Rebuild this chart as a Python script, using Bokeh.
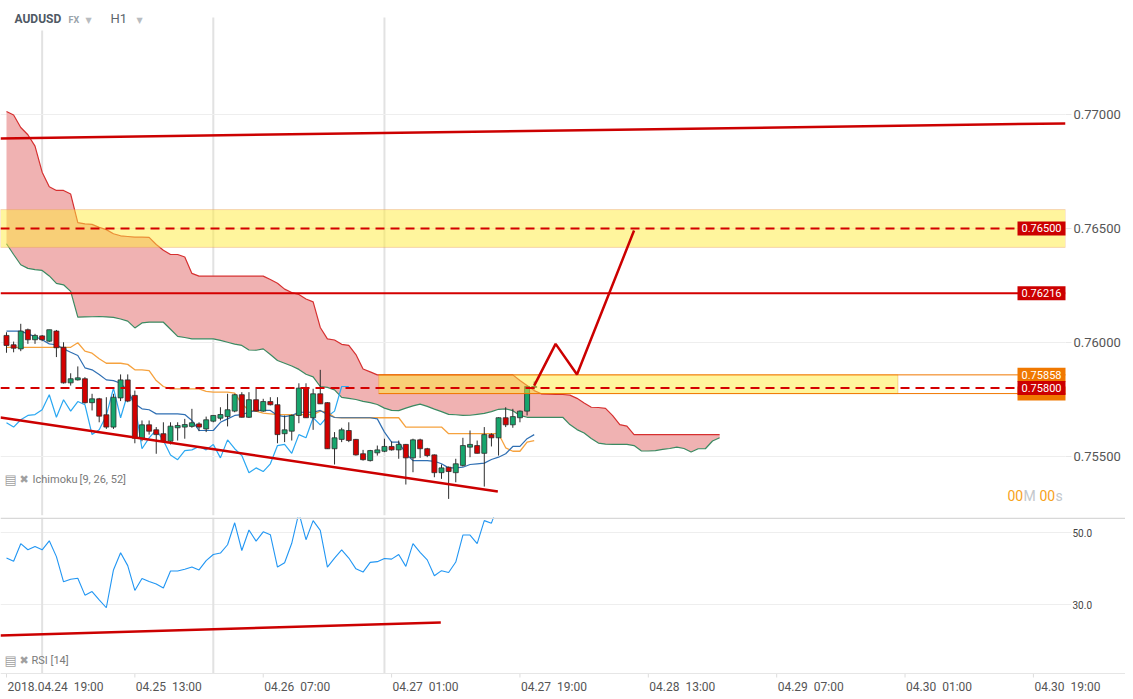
import numpy as np
from bokeh.plotting import figure
from bokeh.models import (Range1d, FixedTicker, Span, BoxAnnotation, ColumnDataSource,
                          PrintfTickFormatter, Label)
from bokeh.layouts import column
from bokeh.embed import file_html
from bokeh.resources import INLINE
from bokeh.core.properties import value

# ---------------- data (hours from 2018.04.24 19:00) ----------------
hours = list(range(75))
opens = [0.76031, 0.75990, 0.75972, 0.76056, 0.76012, 0.76029, 0.76006, 0.76050, 0.75979, 0.75823,
         0.75836, 0.75841, 0.75736, 0.75753, 0.75683, 0.75629, 0.75757, 0.75836, 0.75768, 0.75580,
         0.75639, 0.75617, 0.75600, 0.75567, 0.75626, 0.75629, 0.75632, 0.75643, 0.75621, 0.75655,
         0.75668, 0.75675, 0.75699, 0.75771, 0.75672, 0.75749, 0.75699, 0.75741, 0.75727, 0.75600,
         0.75611, 0.75680, 0.75800, 0.75670, 0.75775, 0.75736, 0.75534, 0.75575, 0.75614, 0.75575,
         0.75512, 0.75482, 0.75516, 0.75523, 0.75544, 0.75529, 0.75553, 0.75494, 0.75573, 0.75534,
         0.75507, 0.75429, 0.75453, 0.75429, 0.75461, 0.75541, 0.75548, 0.75514, 0.75596, 0.75582,
         0.75670, 0.75639, 0.75670, 0.75699, 0.75803]
highs = [0.76045, 0.76004, 0.76082, 0.76061, 0.76038, 0.76033, 0.76056, 0.76055, 0.76001, 0.75865,
         0.75895, 0.75848, 0.75775, 0.75757, 0.75760, 0.75775, 0.75860, 0.75860, 0.75789, 0.75658,
         0.75658, 0.75629, 0.75650, 0.75650, 0.75650, 0.75665, 0.75709, 0.75650, 0.75675, 0.75680,
         0.75716, 0.75775, 0.75775, 0.75782, 0.75782, 0.75797, 0.75753, 0.75760, 0.75760, 0.75680,
         0.75684, 0.75821, 0.75821, 0.75797, 0.75880, 0.75738, 0.75607, 0.75626, 0.75650, 0.75577,
         0.75529, 0.75529, 0.75548, 0.75578, 0.75566, 0.75570, 0.75555, 0.75578, 0.75578, 0.75538,
         0.75509, 0.75465, 0.75456, 0.75490, 0.75582, 0.75614, 0.75570, 0.75629, 0.75602, 0.75672,
         0.75716, 0.75709, 0.75702, 0.75807, 0.75829]
lows = [0.75955, 0.75957, 0.75962, 0.75994, 0.75994, 0.76006, 0.76002, 0.75936, 0.75820, 0.75811,
        0.75833, 0.75732, 0.75702, 0.75650, 0.75621, 0.75621, 0.75743, 0.75738, 0.75558, 0.75567,
        0.75596, 0.75512, 0.75563, 0.75553, 0.75570, 0.75578, 0.75626, 0.75611, 0.75607, 0.75650,
        0.75658, 0.75632, 0.75694, 0.75671, 0.75669, 0.75697, 0.75696, 0.75724, 0.75558, 0.75563,
        0.75570, 0.75646, 0.75669, 0.75617, 0.75730, 0.75533, 0.75465, 0.75563, 0.75563, 0.75504,
        0.75482, 0.75478, 0.75504, 0.75519, 0.75526, 0.75490, 0.75377, 0.75431, 0.75494, 0.75497,
        0.75409, 0.75402, 0.75314, 0.75387, 0.75456, 0.75497, 0.75513, 0.75368, 0.75544, 0.75504,
        0.75629, 0.75626, 0.75650, 0.75680, 0.75794]
closes = [0.75987, 0.75975, 0.76050, 0.76012, 0.76031, 0.76012, 0.76056, 0.75977, 0.75823, 0.75841,
          0.75845, 0.75736, 0.75753, 0.75677, 0.75629, 0.75760, 0.75836, 0.75743, 0.75580, 0.75639,
          0.75611, 0.75596, 0.75567, 0.75633, 0.75636, 0.75640, 0.75648, 0.75629, 0.75661, 0.75680,
          0.75684, 0.75705, 0.75771, 0.75672, 0.75749, 0.75699, 0.75741, 0.75727, 0.75596, 0.75617,
          0.75680, 0.75800, 0.75670, 0.75775, 0.75731, 0.75534, 0.75582, 0.75617, 0.75570, 0.75507,
          0.75486, 0.75526, 0.75529, 0.75544, 0.75529, 0.75553, 0.75494, 0.75573, 0.75534, 0.75504,
          0.75429, 0.75450, 0.75434, 0.75468, 0.75548, 0.75553, 0.75514, 0.75596, 0.75582, 0.75670,
          0.75639, 0.75675, 0.75699, 0.75807, 0.75807]

tenkan = [0.76050, 0.76050, 0.76050, 0.76038, 0.76026, 0.76012, 0.75994, 0.75990, 0.75972, 0.75957,
          0.75943, 0.75889, 0.75880, 0.75860, 0.75836, 0.75833, 0.75821, 0.75789, 0.75731, 0.75709,
          0.75705, 0.75687, 0.75687, 0.75687, 0.75687, 0.75684, 0.75658, 0.75614, 0.75614, 0.75614,
          0.75650, 0.75665, 0.75680, 0.75684, 0.75694, 0.75702, 0.75702, 0.75702, 0.75680, 0.75675,
          0.75680, 0.75694, 0.75694, 0.75694, 0.75702, 0.75684, 0.75671, 0.75670, 0.75670, 0.75670,
          0.75670, 0.75670, 0.75665, 0.75607, 0.75563, 0.75563, 0.75512, 0.75482, 0.75482, 0.75482,
          0.75479, 0.75468, 0.75450, 0.75450, 0.75453, 0.75465, 0.75468, 0.75471, 0.75487, 0.75497,
          0.75512, 0.75544, 0.75544, 0.75578, 0.75596]
kijun = [0.75979, 0.75979, 0.75979, 0.75979, 0.75979, 0.75979, 0.75979, 0.75979, 0.75979, 0.75979,
         0.75999, 0.75962, 0.75953, 0.75929, 0.75909, 0.75909, 0.75909, 0.75904, 0.75880, 0.75880,
         0.75877, 0.75833, 0.75807, 0.75797, 0.75797, 0.75797, 0.75797, 0.75797, 0.75786, 0.75782,
         0.75782, 0.75782, 0.75778, 0.75731, 0.75702, 0.75699, 0.75690, 0.75687, 0.75684, 0.75684,
         0.75684, 0.75684, 0.75684, 0.75684, 0.75699, 0.75694, 0.75672, 0.75670, 0.75670, 0.75670,
         0.75670, 0.75670, 0.75670, 0.75670, 0.75670, 0.75670, 0.75629, 0.75629, 0.75629, 0.75629,
         0.75629, 0.75629, 0.75600, 0.75600, 0.75600, 0.75600, 0.75600, 0.75600, 0.75600, 0.75600,
         0.75538, 0.75523, 0.75523, 0.75563, 0.75570]

cloud_hours = list(range(101))
span_top = [0.77013, 0.76998, 0.76943, 0.76911, 0.76861, 0.76747, 0.76683, 0.76667, 0.76667, 0.76651,
            0.76526, 0.76520, 0.76518, 0.76505, 0.76495, 0.76477, 0.76468, 0.76465, 0.76462, 0.76462,
            0.76461, 0.76430, 0.76405, 0.76386, 0.76386, 0.76375, 0.76303, 0.76291, 0.76291, 0.76291,
            0.76291, 0.76291, 0.76291, 0.76291, 0.76291, 0.76291, 0.76291, 0.76276, 0.76260, 0.76234,
            0.76219, 0.76211, 0.76191, 0.76178, 0.76066, 0.76016, 0.76011, 0.75992, 0.75987, 0.75947,
            0.75884, 0.75871, 0.75858, 0.75858, 0.75858, 0.75858, 0.75858, 0.75858, 0.75858, 0.75858,
            0.75858, 0.75858, 0.75858, 0.75858, 0.75858, 0.75858, 0.75858, 0.75858, 0.75858, 0.75858,
            0.75858, 0.75858, 0.75833, 0.75811, 0.75789, 0.75775, 0.75773, 0.75772, 0.75772, 0.75769,
            0.75755, 0.75735, 0.75716, 0.75715, 0.75711, 0.75679, 0.75640, 0.75633, 0.75596, 0.75596,
            0.75596, 0.75596, 0.75596, 0.75596, 0.75596, 0.75596, 0.75596, 0.75596, 0.75596, 0.75596,
            0.75596]
span_bottom = [0.76433, 0.76386, 0.76341, 0.76325, 0.76320, 0.76316, 0.76292, 0.76259, 0.76253, 0.76224,
               0.76111, 0.76112, 0.76113, 0.76114, 0.76112, 0.76110, 0.76103, 0.76094, 0.76064, 0.76086,
               0.76089, 0.76089, 0.76089, 0.76058, 0.76027, 0.76022, 0.76016, 0.76016, 0.76016, 0.76016,
               0.76009, 0.76001, 0.75993, 0.75987, 0.75967, 0.75966, 0.75972, 0.75947, 0.75921, 0.75909,
               0.75897, 0.75882, 0.75861, 0.75849, 0.75807, 0.75803, 0.75792, 0.75759, 0.75755, 0.75750,
               0.75742, 0.75736, 0.75728, 0.75712, 0.75702, 0.75701, 0.75712, 0.75722, 0.75730, 0.75720,
               0.75708, 0.75697, 0.75685, 0.75683, 0.75680, 0.75681, 0.75685, 0.75689, 0.75697, 0.75707,
               0.75709, 0.75701, 0.75680, 0.75672, 0.75672, 0.75672, 0.75672, 0.75672, 0.75672, 0.75640,
               0.75618, 0.75603, 0.75579, 0.75559, 0.75554, 0.75553, 0.75553, 0.75553, 0.75548, 0.75525,
               0.75524, 0.75526, 0.75531, 0.75535, 0.75541, 0.75535, 0.75520, 0.75534, 0.75534, 0.75568,
               0.75582]

rsi = [42.9, 42.0, 46.9, 45.2, 46.1, 45.2, 47.7, 43.3, 36.3, 37.0,
       37.3, 32.6, 33.6, 31.3, 29.1, 39.6, 44.4, 40.8, 33.9, 37.2,
       36.4, 35.7, 34.6, 39.3, 39.3, 39.8, 40.4, 39.6, 42.2, 43.9,
       44.3, 46.6, 52.7, 45.0, 50.7, 47.6, 50.2, 49.4, 40.4, 41.6,
       47.0, 55.5, 48.0, 53.3, 50.6, 40.4, 42.9, 45.2, 42.9, 39.9,
       39.0, 41.7, 41.9, 42.8, 42.6, 43.9, 40.6, 46.9, 44.5, 42.4,
       38.0, 39.4, 38.9, 41.8, 49.3, 49.3, 46.9, 53.3, 52.6, 58.0,
       57.0, 59.0, 60.5, 63.0, 63.5]

tick_hours = [0, 18, 36, 54, 72, 90, 108, 126, 144]
tick_labels = ["2018.04.24\u00a0\u00a019:00", "04.25\u00a0\u00a013:00", "04.26\u00a0\u00a007:00",
               "04.27\u00a0\u00a001:00", "04.27\u00a0\u00a019:00", "04.28\u00a0\u00a013:00",
               "04.29\u00a0\u00a007:00", "04.30\u00a0\u00a001:00", "04.30\u00a0\u00a019:00"]
day_breaks = [5, 29, 53]
price_ticks = [0.755, 0.760, 0.765, 0.770]
rsi_ticks = [30, 50]

level_dashed = [0.76500, 0.75800]
level_solid = [0.76216]
zone_upper = [0.76417, 0.76583]
zone_lower = [0.75776, 0.75858]
zone_lower_hours = [52.2, 125.0]
trend_top_hours = [-0.84, 148.5]
trend_top_prices = [0.76895, 0.76961]
trend_low_hours = [-0.84, 68.9]
trend_low_prices = [0.75671, 0.75346]
zig_hours = [74, 77, 80, 88]
zig_prices = [0.75811, 0.75994, 0.75860, 0.76491]
rsi_trend_hours = [-0.84, 60.9]
rsi_trend_vals = [21.4, 25.0]

# ---------------- layout constants ----------------
X_LO, X_HI = -0.84, 148.5
FW = 1065
P_LO, P_HI = 0.752412, 0.775
R_HI = 54.17
R_AXIS = 10.83          # RSI value at the time-axis line
R_LO = 5.28             # bottom of the RSI frame (room for the time labels)
R_PER_PX = 1 / 3.6      # RSI units per screen pixel
px_per_hour = FW / (X_HI - X_LO)
price_per_px = (P_HI - P_LO) / 515
RW = 1125               # RSI panel frame width (labels drawn inside)
R_X_HI = X_LO + RW / px_per_hour
FONT = "Roboto"

GREEN = "#17a56d"
RED = "#d40000"

p = figure(x_range=Range1d(X_LO, X_HI), y_range=Range1d(P_LO, P_HI), frame_width=FW, frame_height=515,
           y_axis_location="right", output_backend="svg", toolbar_location=None,
           min_border_left=0, min_border_top=0, min_border_bottom=2, min_border_right=0)
p.xaxis.visible = False
p.outline_line_color = None
p.xgrid.grid_line_color = None
p.ygrid.grid_line_color = "#eeeeee"
p.yaxis.ticker = FixedTicker(ticks=price_ticks)
p.yaxis.formatter = PrintfTickFormatter(format="%.5f")
p.yaxis.axis_line_color = None
p.yaxis.major_tick_line_color = "#e8e8e8"
p.yaxis.major_tick_out = 6
p.yaxis.major_tick_in = 0
p.yaxis.minor_tick_line_color = None
p.yaxis.major_label_text_font = FONT
p.yaxis.major_label_text_font_size = "13px"
p.yaxis.major_label_text_color = "#555555"
p.yaxis.major_label_standoff = 2

# day separators (the first one starts below the header text)
day_tops = [P_HI - 30 * price_per_px, P_HI - 17 * price_per_px, P_HI - 17 * price_per_px]
p.segment(x0=day_breaks, x1=day_breaks, y0=[P_LO] * len(day_breaks), y1=day_tops,
          line_color="#e2e2e2", line_width=2, level="underlay")

# Ichimoku cloud
p.varea(x=cloud_hours, y1=span_bottom, y2=span_top, fill_color="#f0b2b2")
p.line(cloud_hours, span_top, line_color="#d63030", line_width=1.2)
p.line(cloud_hours, span_bottom, line_color="#3b8a62", line_width=1.2)

# Ichimoku lines (chikou = close shifted back 26 bars)
p.line(hours[:-26], closes[26:], line_color="#2ba8f2", line_width=1.2)
p.line(hours, kijun, line_color="#f6a23e", line_width=1.3)
p.line(hours, tenkan, line_color="#2f6fb3", line_width=1.2)

# candles
o = np.array(opens); c = np.array(closes)
src = ColumnDataSource(dict(x=hours, h=highs, l=lows, top=np.maximum(o, c), bot=np.minimum(o, c),
                            col=[GREEN if cc >= oo else RED for oo, cc in zip(opens, closes)]))
p.segment(x0="x", y0="h", x1="x", y1="l", source=src, line_color="#2d2d2d", line_width=1)
p.vbar(x="x", width=0.7, top="top", bottom="bot", source=src, fill_color="col",
       line_color="#2d2d2d", line_width=0.8)

# zones
p.add_layout(BoxAnnotation(bottom=zone_upper[0], top=zone_upper[1], fill_color="#ffeb3b", fill_alpha=0.5,
                           line_color="#e5866a", line_width=1))
p.add_layout(BoxAnnotation(left=zone_lower_hours[0], right=zone_lower_hours[1], bottom=zone_lower[0],
                           top=zone_lower[1], fill_color="#ffeb3b", fill_alpha=0.5,
                           line_color="#f07800", line_width=1))
p.segment(x0=[zone_lower_hours[0]] * 2, x1=[X_HI] * 2, y0=zone_lower, y1=zone_lower,
          line_color="#f07800", line_width=1, level="overlay")

for lv in level_dashed:
    p.add_layout(Span(location=lv, dimension="width", line_color=RED, line_width=2, line_dash="9 6"))
for lv in level_solid:
    p.add_layout(Span(location=lv, dimension="width", line_color=RED, line_width=2))

# trend lines & projection
p.line(trend_top_hours, trend_top_prices, line_color="#cc0000", line_width=2.5)
p.line(trend_low_hours, trend_low_prices, line_color="#cc0000", line_width=2.5)
p.line(zig_hours, zig_prices, line_color="#cc0000", line_width=2.5, level="overlay")

# price tags on the right edge
lab_x = X_HI - 24 / px_per_hour
tag_vals = [zone_lower[0], zone_lower[1], level_dashed[1], level_dashed[0], level_solid[0]]
tag_cols = ["#f07800", "#f07800", "#cc0000", "#cc0000", "#cc0000"]
tag_txt = ["", f"{zone_lower[1]:.5f}", f"{level_dashed[1]:.5f}", f"{level_dashed[0]:.5f}", f"{level_solid[0]:.5f}"]
tsrc = ColumnDataSource(dict(x=[lab_x] * 5, y=tag_vals, col=tag_cols, t=tag_txt))
p.rect(x="x", y="y", width=48, height=14, width_units="screen", height_units="screen",
       fill_color="col", line_color=None, source=tsrc, level="overlay")
p.text(x="x", y="y", text="t", source=tsrc, text_align="center", text_baseline="middle",
       text_font=value(FONT), text_font_size="11px", text_color="white", level="overlay")


def lab(fig, x, y, xo, yo, txt, size, color, style="normal", font=FONT):
    fig.add_layout(Label(x=x, y=y, x_offset=xo, y_offset=yo, text=txt, text_font=font,
                         text_font_size=size, text_color=color, text_font_style=style,
                         text_baseline="middle", text_align="left"))


# header
lab(p, X_LO, P_HI, 14, -18, "AUDUSD", "12px", "#4f5964", "bold")
lab(p, X_LO, P_HI, 68, -19, "FX", "9px", "#9aa3ab", "bold")
lab(p, X_LO, P_HI, 85, -20, "\u25bc", "8px", "#b8bcc0", font="DejaVu Sans")
lab(p, X_LO, P_HI, 110, -18, "H1", "13px", "#5d656d")
lab(p, X_LO, P_HI, 136, -20, "\u25bc", "8px", "#b8bcc0", font="DejaVu Sans")

# indicator caption
lab(p, X_LO, P_LO, 4, 36, "\u25a4", "13px", "#a0a0a0", font="DejaVu Sans")
lab(p, X_LO, P_LO, 19, 36, "\u2716", "11px", "#a0a0a0", font="DejaVu Sans")
lab(p, X_LO, P_LO, 32, 36, "Ichimoku", "11px", "#7a7a7a")
lab(p, X_LO, P_LO, 79, 36, "[9, 26, 52]", "11px", "#7a7a7a")

# countdown
lab(p, X_LO, P_LO, 1007, 20, "00", "14px", "#f7a21b")
lab(p, X_LO, P_LO, 1023, 20, "M", "14px", "#c3c7cb")
lab(p, X_LO, P_LO, 1039, 20, "00", "14px", "#f7a21b")
lab(p, X_LO, P_LO, 1055, 20, "s", "14px", "#c3c7cb")

# ---------------- RSI panel (axis texts drawn inside a wider frame) ----------------
r = figure(x_range=Range1d(X_LO, R_X_HI), y_range=Range1d(R_LO, R_HI), frame_width=RW, frame_height=176,
           output_backend="svg", toolbar_location=None,
           min_border_left=0, min_border_top=0, min_border_bottom=0, min_border_right=0)
r.outline_line_color = None
r.xaxis.visible = False
r.yaxis.visible = False
r.xgrid.grid_line_color = None
r.ygrid.grid_line_color = None

grid_end = X_LO + 1071 / px_per_hour
label_x = X_LO + 1072 / px_per_hour
r.segment(x0=[X_LO] * len(rsi_ticks), x1=[grid_end] * len(rsi_ticks), y0=rsi_ticks, y1=rsi_ticks,
          line_color="#eeeeee", line_width=1, level="underlay")
r.text(x=[label_x] * len(rsi_ticks), y=rsi_ticks, text=[f"{v:.1f}" for v in rsi_ticks],
       text_align="left", text_baseline="middle", text_font=value(FONT), text_font_size="10px",
       text_color="#444444")

r.segment(x0=day_breaks, x1=day_breaks, y0=[R_AXIS] * len(day_breaks), y1=[R_HI] * len(day_breaks),
          line_color="#e2e2e2", line_width=2, level="underlay")
r.add_layout(Span(location=R_HI - 0.2, dimension="width", line_color="#d8d8d8", line_width=1.5))
r.add_layout(Span(location=R_AXIS, dimension="width", line_color="#e6e6e6", line_width=1))

r.line(hours[:len(rsi)], rsi, line_color="#2196f3", line_width=1.1)
r.line(rsi_trend_hours, rsi_trend_vals, line_color="#cc0000", line_width=2.5)

# time axis: tick marks and left-aligned labels
r.segment(x0=tick_hours, x1=tick_hours, y0=[R_AXIS] * len(tick_hours),
          y1=[R_AXIS - 4 * R_PER_PX] * len(tick_hours), line_color="#dddddd", line_width=1)
r.text(x=tick_hours, y=[R_AXIS - 13 * R_PER_PX] * len(tick_hours), text=tick_labels,
       text_align="left", text_baseline="middle", x_offset=1,
       text_font=value(FONT), text_font_size="12px", text_color="#555555")

lab(r, X_LO, R_LO, 4, 33, "\u25a4", "13px", "#a0a0a0", font="DejaVu Sans")
lab(r, X_LO, R_LO, 19, 33, "\u2716", "11px", "#a0a0a0", font="DejaVu Sans")
lab(r, X_LO, R_LO, 31, 33, "RSI", "11px", "#7a7a7a")
lab(r, X_LO, R_LO, 50, 33, "[14]", "11px", "#7a7a7a")

layout = column(p, r, spacing=0)
open("out.html", "w").write(file_html(layout, INLINE))
